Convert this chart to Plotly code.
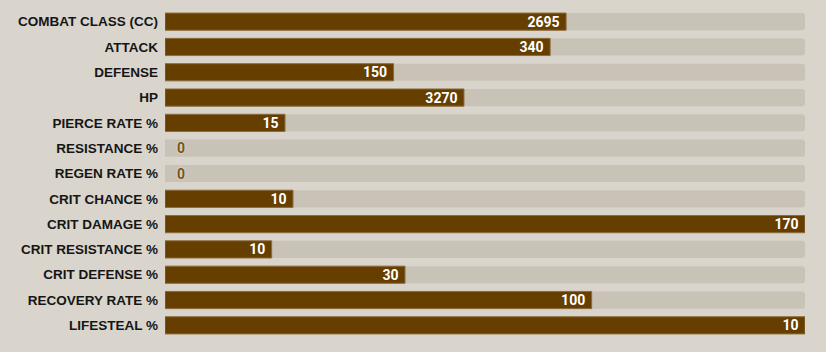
import plotly.graph_objects as go

labels = ["COMBAT CLASS (CC)", "ATTACK", "DEFENSE", "HP", "PIERCE RATE %",
          "RESISTANCE %", "REGEN RATE %", "CRIT CHANCE %", "CRIT DAMAGE %",
          "CRIT RESISTANCE %", "CRIT DEFENSE %", "RECOVERY RATE %", "LIFESTEAL %"]
values = [2695, 340, 150, 3270, 15, 0, 0, 10, 170, 10, 30, 100, 10]
maxima = [4300, 565, 420, 7000, 80, 50, 50, 50, 170, 60, 80, 150, 10]

fractions = [v / m for v, m in zip(values, maxima)]
texts = [str(v) + " " if v > 0 else "" for v in values]
line_widths = [1 if v > 0 else 0 for v in values]

BG = "#D9D5CC"
TRACK = "#C9C2B7"
FILL = "#653E00"

fig = go.Figure()
fig.add_trace(go.Bar(
    y=labels, x=[1] * len(labels), orientation="h",
    marker=dict(color=TRACK, line=dict(width=0), cornerradius=3),
    width=0.68, hoverinfo="skip", showlegend=False,
))
fig.add_trace(go.Bar(
    y=labels, x=fractions, orientation="h",
    marker=dict(color=FILL, line=dict(color="#8C6C3C", width=line_widths)),
    width=0.68, text=texts, textposition="inside",
    insidetextanchor="end", textangle=0,
    textfont=dict(family="Roboto", size=14, color="#FFFFFF", weight="bold"),
    hoverinfo="skip", showlegend=False,
))

for lab, v in zip(labels, values):
    if v == 0:
        fig.add_annotation(
            x=0, y=lab, xref="x", yref="y", text=str(v), showarrow=False,
            xanchor="left", xshift=10,
            font=dict(family="Roboto", size=14, color="#7A5518", weight="bold",
                      shadow="0px 0px 2px #F2EEE6"),
        )

fig.update_layout(
    width=826, height=352, barmode="overlay",
    paper_bgcolor=BG, plot_bgcolor=BG,
    margin=dict(l=165, r=21, t=9, b=14),
    xaxis=dict(range=[0, 1], visible=False, fixedrange=True),
    yaxis=dict(autorange="reversed", showgrid=False, zeroline=False,
               ticks="", ticklabelstandoff=6,
               tickfont=dict(family="Liberation Sans", size=13.5, color="#151515", weight="bold")),
    uniformtext=dict(mode="show", minsize=14),
)

fig.write_html("out.html", config={"displayModeBar": False})
